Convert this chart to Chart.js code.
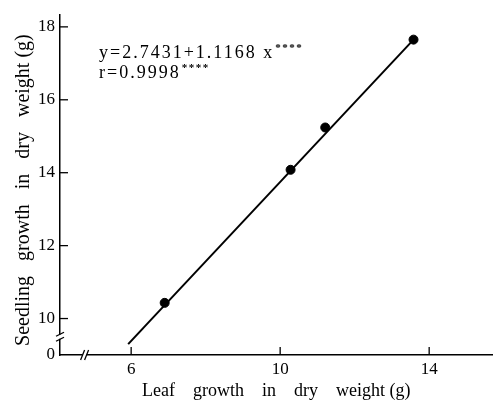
<!DOCTYPE html>
<html>
<head>
<meta charset="utf-8">
<script src="https://cdn.jsdelivr.net/npm/chart.js@4"></script>
<style>
  html, body { margin: 0; padding: 0; background: #fff; }
</style>
</head>
<body>
<canvas id="chart" width="498" height="406"></canvas>
<script>
// measured points (leaf growth vs seedling growth, g dry weight)
const leafX = [6.9, 10.28, 11.21, 13.58];
const seedlingY = [10.43, 14.08, 15.24, 17.65];

// end points of the fitted line
const fitX = [5.92, 13.58];
const fitY = [9.3, 17.65];

const xTicks = [6, 10, 14];
const yTicks = [9, 10, 12, 14, 16, 18];
const yTickLabels = ['0', '10', '12', '14', '16', '18'];

const eqLines = ['y=2.7431+1.1168 x', 'r=0.9998'];
const stars = '****';

const xBreak = 4.75;   // where the x axis is broken
const yBreak = 9.5;    // where the y axis is broken

const serif = '"Liberation Serif", "Times New Roman", serif';

const axisExtras = {
    id: 'axisExtras',
    afterDraw(chart) {
        const ctx = chart.ctx;
        const xs = chart.scales.x;
        const ys = chart.scales.y;
        const area = chart.chartArea;
        ctx.save();
        ctx.strokeStyle = '#000';
        ctx.lineWidth = 1.3;

        // inward tick marks
        xTicks.forEach(v => {
            let px = xs.getPixelForValue(v);
            ctx.beginPath();
            ctx.moveTo(px, area.bottom);
            ctx.lineTo(px, area.bottom - 8);
            ctx.stroke();
        });
        yTicks.slice(1).forEach(v => {
            let py = ys.getPixelForValue(v);
            ctx.beginPath();
            ctx.moveTo(area.left, py);
            ctx.lineTo(area.left + 8, py);
            ctx.stroke();
        });

        // y axis break
        let by = ys.getPixelForValue(yBreak);
        ctx.fillStyle = '#fff';
        ctx.fillRect(area.left - 3, by - 2, 6, 4);
        [-2.5, 2.5].forEach(d => {
            ctx.beginPath();
            ctx.moveTo(area.left - 4, by + d + 2);
            ctx.lineTo(area.left + 4, by + d - 2);
            ctx.stroke();
        });

        // x axis break
        let bx = xs.getPixelForValue(xBreak);
        ctx.fillRect(bx - 2, area.bottom - 3, 4, 6);
        [-2, 2].forEach(d => {
            ctx.beginPath();
            ctx.moveTo(bx + d - 2, area.bottom + 5);
            ctx.lineTo(bx + d + 2, area.bottom - 5);
            ctx.stroke();
        });

        // regression text
        ctx.fillStyle = '#000';
        ctx.textBaseline = 'alphabetic';
        let tx = area.left + 39;
        let lineY = [area.top + 43, area.top + 63];
        eqLines.forEach((s, i) => {
            ctx.font = '18px ' + serif;
            ctx.letterSpacing = '2px';
            ctx.fillText(s, tx, lineY[i]);
            let w = ctx.measureText(s).width;
            ctx.font = 'bold 11px ' + serif;
            ctx.letterSpacing = '1.5px';
            ctx.fillText(stars, tx + w + 1, lineY[i] - 7);
        });
        ctx.restore();
    }
};

const ctx = document.getElementById('chart').getContext('2d');

new Chart(ctx, {
    type: 'scatter',
    data: {
        datasets: [
            {
                label: 'fit',
                data: fitX.map((x, i) => ({ x: x, y: fitY[i] })),
                showLine: true,
                borderColor: '#000',
                borderWidth: 2,
                pointRadius: 0
            },
            {
                label: 'points',
                data: leafX.map((x, i) => ({ x: x, y: seedlingY[i] })),
                backgroundColor: '#000',
                borderColor: '#000',
                pointRadius: 4.5
            }
        ]
    },
    options: {
        responsive: false,
        animation: false,
        layout: { padding: { top: 10, right: 3, left: 0, bottom: 0 } },
        plugins: {
            legend: { display: false },
            tooltip: { enabled: false }
        },
        scales: {
            x: {
                type: 'linear',
                min: 4.09,
                max: 15.7,
                afterFit: s => { s.height = 51; },
                afterBuildTicks: s => { s.ticks = xTicks.map(v => ({ value: v })); },
                grid: { display: true, drawOnChartArea: false, drawTicks: false },
                border: { display: true, color: '#000', width: 1.5 },
                ticks: {
                    color: '#000',
                    padding: 4,
                    font: { family: serif, size: 17 }
                },
                title: {
                    display: true,
                    text: 'Leaf    growth    in    dry    weight (g)',
                    color: '#000',
                    padding: { top: 3 },
                    font: { family: serif, size: 18, lineHeight: 1.2 }
                }
            },
            y: {
                type: 'linear',
                min: 9,
                max: 18.32,
                afterFit: s => { s.width = 60; },
                afterBuildTicks: s => { s.ticks = yTicks.map(v => ({ value: v })); },
                grid: { display: true, drawOnChartArea: false, drawTicks: false },
                border: { display: true, color: '#000', width: 1.5 },
                ticks: {
                    color: '#000',
                    padding: 5,
                    font: { family: serif, size: 17 },
                    callback: v => yTickLabels[yTicks.indexOf(v)]
                },
                title: {
                    display: true,
                    text: 'Seedling   growth   in   dry   weight (g)  ',
                    color: '#000',
                    padding: { top: 12 },
                    font: { family: serif, size: 20, lineHeight: 1.2 }
                }
            }
        }
    },
    plugins: [axisExtras]
});
</script>
</body>
</html>
